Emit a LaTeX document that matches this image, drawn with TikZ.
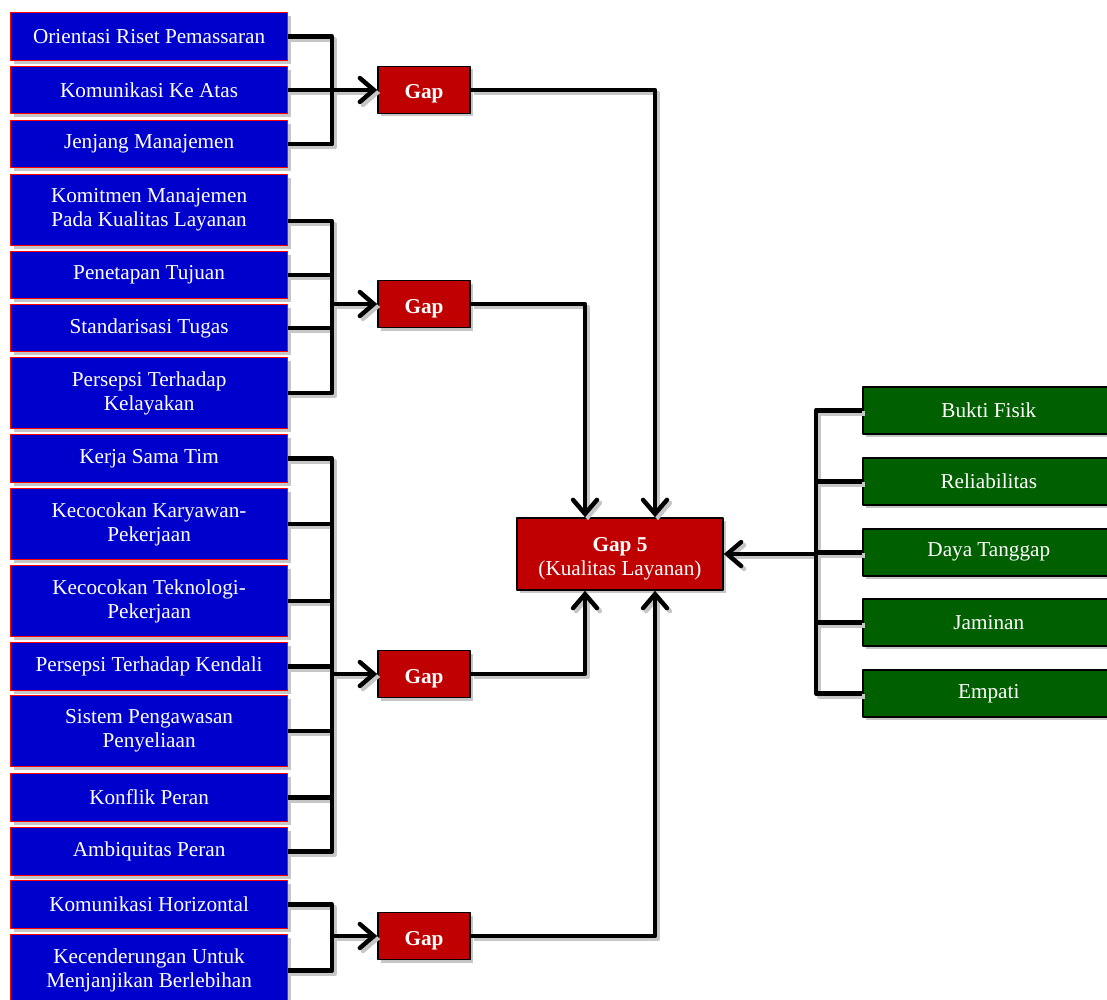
\documentclass[tikz,border=0pt]{standalone}
\usepackage{fontspec}
\setmainfont{Liberation Serif}
\usetikzlibrary{arrows.meta,shadows}
\definecolor{faktorbiru}{HTML}{0000CC}
\definecolor{gapmerah}{HTML}{C00000}
\definecolor{dimensihijau}{HTML}{006000}
\begin{document}
\begin{tikzpicture}[x=0.5pt,y=-0.5pt,line join=round,>={Straight Barb[length=7pt,width=12pt,line cap=round]}]
            \tikzset{bayang/.style={drop shadow={shadow xshift=1.5pt,shadow yshift=-1.5pt,fill=gray!45,opacity=1}}}
            \tikzset{faktor/.style={bayang,draw=red,line width=0.6pt,fill=faktorbiru,text=white,anchor=north west,
                minimum width=138.5pt,inner sep=0pt,align=center,font=\fontsize{10.6pt}{12pt}\selectfont}}
            \tikzset{gapbox/.style={bayang,draw=black,line width=0.8pt,fill=gapmerah,text=white,align=center,
                inner sep=0pt,font=\fontsize{10.6pt}{12pt}\selectfont}}
            \tikzset{dimensi/.style={bayang,draw=black,line width=0.8pt,fill=dimensihijau,text=white,anchor=north west,
                minimum width=126pt,minimum height=23.5pt,inner sep=0pt,font=\fontsize{10.6pt}{12pt}\selectfont}}
            \tikzset{garis/.style={line width=2.2pt,preaction={draw=gray!45,line width=2.2pt,transform canvas={shift={(1.5pt,-1.5pt)}}}}}
            \def \kiri{10}
            \def \jx{332}
            \useasboundingbox (0,0) rectangle (1107,1000);
            % faktor penyebab
            \foreach \n/\y/\h/\t in {f1/12/48/{Orientasi Riset Pemassaran},f2/66/47/{Komunikasi Ke Atas},
                f3/120/47/{Jenjang Manajemen},f4/174/71/{Komitmen Manajemen\\Pada Kualitas Layanan},
                f5/251/47/{Penetapan Tujuan},f6/304/47/{Standarisasi Tugas},
                f7/357/71/{Persepsi Terhadap\\Kelayakan},f8/434/48/{Kerja Sama Tim},
                f9/488/71/{Kecocokan Karyawan-\\Pekerjaan},f10/565/71/{Kecocokan Teknologi-\\Pekerjaan},
                f11/642/48/{Persepsi Terhadap Kendali},f12/695/71/{Sistem Pengawasan\\Penyeliaan},
                f13/773/48/{Konflik Peran},f14/827/48/{Ambiquitas Peran},
                f15/880/48/{Komunikasi Horizontal},f16/934/72/{Kecenderungan Untuk\\Menjanjikan Berlebihan}}
            \node[faktor,minimum height=\h*0.5pt] (\n) at (\kiri,\y) {\t};
            % gap
            \foreach \n/\y in {g1/90,g2/304,g3/674,g4/936}
            \node[gapbox,minimum width=46pt,minimum height=23.5pt,text height=9pt,text depth=0pt] (\n) at (424,\y) {\textbf{Gap}};
            \node[gapbox,minimum width=103pt,minimum height=36pt] (g5) at (620,554) {\rule{0pt}{11.5pt}\textbf{Gap 5}\\(Kualitas Layanan)};
            % dimensi kualitas
            \foreach \n/\y/\t in {k1/386/Bukti Fisik,k2/457/Reliabilitas,k3/528/Daya Tanggap,k4/598/Jaminan,k5/669/Empati}
            \node[dimensi] (\n) at (862,\y) {\t};
            \coordinate (j1) at (\jx,90);
            \coordinate (j2) at (\jx,304);
            \coordinate (j3) at (\jx,674);
            \coordinate (j4) at (\jx,936);
            \coordinate (j5) at (816,554);
            % kelompok 1
            \draw[garis,->] (f1.east) -- (f1.east -| j1) -- (f3.east -| j1) -- (f3.east)
                (f2.east) -- (f2.east -| j1) (j1) -- (g1.west);
            % kelompok 2
            \draw[garis,->] ([yshift=-5.5pt]f4.east) -- ([yshift=-5.5pt]f4.east -| j2) -- (f7.east -| j2) -- (f7.east)
                (f5.east) -- (f5.east -| j2) (f6.east) -- (f6.east -| j2) (j2) -- (g2.west);
            % kelompok 3
            \draw[garis,->] (f8.east) -- (f8.east -| j3) -- (f14.east -| j3) -- (f14.east)
                (f9.east) -- (f9.east -| j3) (f10.east) -- (f10.east -| j3) (f11.east) -- (f11.east -| j3)
                (f12.east) -- (f12.east -| j3) (f13.east) -- (f13.east -| j3) (j3) -- (g3.west);
            % kelompok 4
            \draw[garis,->] (f15.east) -- (f15.east -| j4) -- (f16.east -| j4) -- (f16.east)
                (j4) -- (g4.west);
            % menuju gap 5
            \draw[garis,->] (g1.east) -| ([xshift=17.5pt]g5.north);
            \draw[garis,->] (g2.east) -| ([xshift=-17.5pt]g5.north);
            \draw[garis,->] (g3.east) -| ([xshift=-17.5pt]g5.south);
            \draw[garis,->] (g4.east) -| ([xshift=17.5pt]g5.south);
            % dimensi
            \draw[garis,->] (k1.west) -- (k1.west -| j5) -- (k5.west -| j5) -- (k5.west)
                (k2.west) -- (k2.west -| j5) (k3.west) -- (k3.west -| j5) (k4.west) -- (k4.west -| j5)
                (j5) -- (g5.east);
        \end{tikzpicture}
\end{document}
